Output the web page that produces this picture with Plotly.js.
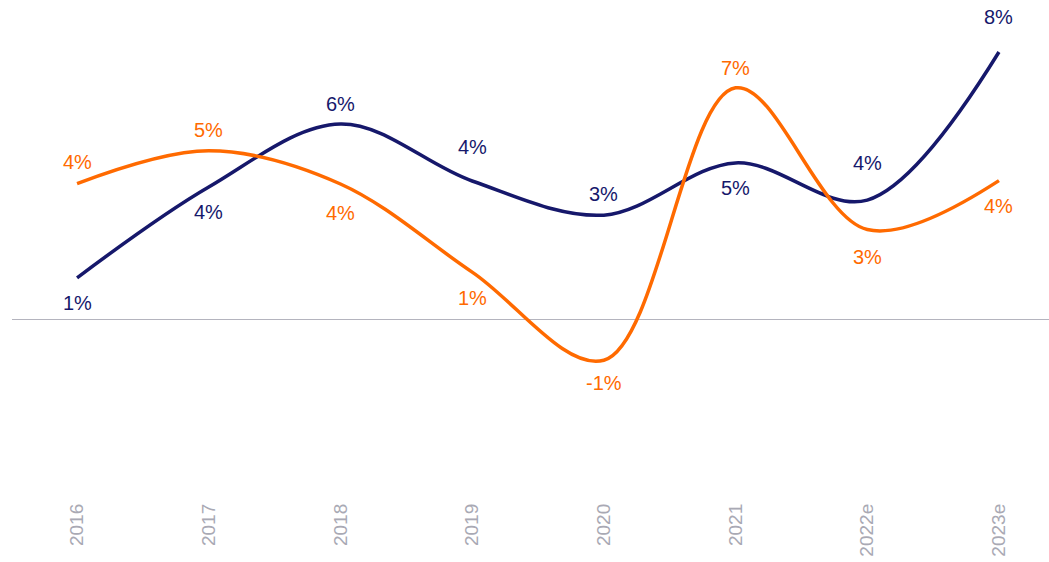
<!DOCTYPE html>
<html>
<head>
<meta charset="utf-8">
<script src="https://cdn.plot.ly/plotly-3.0.1.min.js"></script>
<style>html,body{margin:0;padding:0;background:#fff;}#chart{width:1049px;height:562px;}</style>
</head>
<body>
<div id="chart"></div>
<script>
const categories = ["2016", "2017", "2018", "2019", "2020", "2021", "2022e", "2023e"];
const navyValues = [1.26, 3.97, 5.85, 4.15, 3.13, 4.69, 3.58, 8.0];
const orangeValues = [4.07, 5.05, 4.06, 1.43, -1.2, 6.93, 2.7, 4.16];

const NAVY = "#16186b";
const ORANGE = "#ff6a00";
// label vertical offsets in px (positive = up)
const navyShift = [-25, -25, 20, 34, 21, -25, 37, 35];
const orangeShift = [22, 21, -29, -26, -23, 20, -27, -25];

function fmt(v) { return Math.round(v) + "%"; }

const traces = [
  {x: categories, y: navyValues, type: "scatter", mode: "lines",
   line: {color: NAVY, width: 3.5, shape: "spline", smoothing: 1}, hoverinfo: "skip"},
  {x: categories, y: orangeValues, type: "scatter", mode: "lines",
   line: {color: ORANGE, width: 3.5, shape: "spline", smoothing: 1}, hoverinfo: "skip"}
];

const FONT = "Arial, 'Liberation Sans', sans-serif";
const annotations = [];
categories.forEach((c, i) => {
  annotations.push({x: i, y: navyValues[i], xref: "x", yref: "y", text: fmt(navyValues[i]),
    showarrow: false, yshift: navyShift[i], font: {color: NAVY, size: 20, family: FONT}});
  annotations.push({x: i, y: orangeValues[i], xref: "x", yref: "y", text: fmt(orangeValues[i]),
    showarrow: false, yshift: orangeShift[i], font: {color: ORANGE, size: 20, family: FONT}});
});

const layout = {
  width: 1049, height: 562,
  margin: {l: 12, r: 0, t: 0, b: 67},
  paper_bgcolor: "#ffffff", plot_bgcolor: "#ffffff",
  showlegend: false,
  xaxis: {type: "category", range: [-0.494, 7.38], showgrid: false, zeroline: false, showline: false,
    ticks: "", tickangle: -90, ticklabelstandoff: 4,
    tickfont: {color: "#a9a9b4", size: 19, family: FONT}},
  yaxis: {range: [-5.224, 9.552], showgrid: false, zeroline: true, zerolinecolor: "#b4b4be", zerolinewidth: 1,
    showticklabels: false, ticks: "", showline: false},
  annotations: annotations
};

Plotly.newPlot("chart", traces, layout, {displayModeBar: false, staticPlot: true});
</script>
</body>
</html>
